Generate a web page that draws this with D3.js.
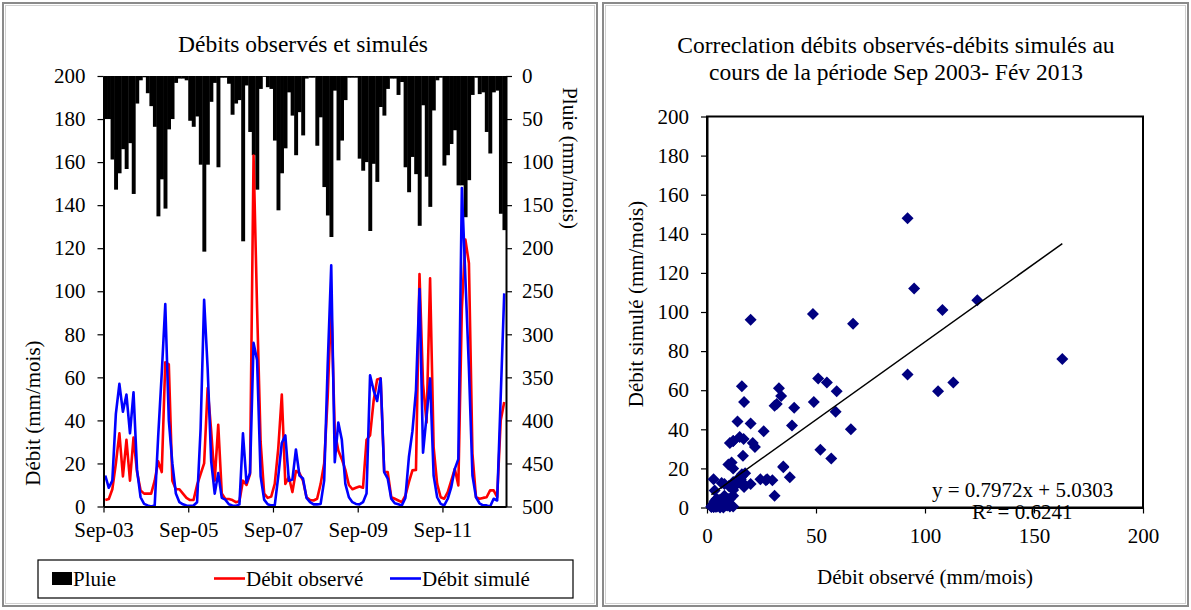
<!DOCTYPE html>
<html><head><meta charset="utf-8">
<script src="https://cdn.jsdelivr.net/npm/d3@7/dist/d3.min.js"></script>
<style>
html,body{margin:0;padding:0;background:#fff;}
text{font-family:"Liberation Serif","Times New Roman",serif;fill:#000;}
</style></head>
<body>
<svg id="c" width="1191" height="610"></svg>
<script>
// ---- DATA (monthly, Sep 2003 -> Feb 2013) ----
const months = d3.range(114); // month index from Sep-03
const xTickIdx = [0, 24, 48, 72, 96];
const xTickLabels = ["Sep-03", "Sep-05", "Sep-07", "Sep-09", "Sep-11"];
const pluie = [50,50,97,132,113,85,108,78,137,32,5,1.5,20,35,59,163,120,154,62,50,
  8,3,3,5,52,59,47,103,204,103,30,8,106,2,2,9,45,32,28,192,
  11,65,92,132,15,1,13,15,75,156,113,84,19,46,92,42,69,3,2,2,
  81,48,129,162,187,17,98,75,28,2,2,2,96,110,100,180,102,123,36,46,
  15,3,3,22,7,106,135,94,114,174,34,117,152,40,5,2,104,92,79,63,
  127,127,164,121,22,2,21,19,65,90,19,17,160,179];
const debitObs = [3,3.5,8,20,34,14,31,12,32,16,7.5,6,6,6,12,21,16,67,66,12,
  8,8,6,4,3,3,10,15,20,55,35,12,38,6,3.5,3.5,3,2,2.5,12,
  10,15,163,92,30,6,4,4.6,10.5,27,52,10.5,13.7,6.7,16.5,15.5,12,4.3,3,2.8,
  3.6,10.5,20,51,95,35,26,22,17,10,8,8.7,9.3,8.7,31,33,49,59,59.5,16,
  16,4.3,3.6,2.8,2,5,11.3,16.8,17,108,57,39,106,27.6,10.5,4.3,3.6,6.7,12,17.5,
  9.8,92,124,113,24.5,4.3,3.6,4,4.3,7.5,7.5,4.3,40,48.6];
const debitSim = [14.4,8.7,12,43,57,44,52,34,53,17,4.3,1.2,0.5,0,0.5,33,62,94,40,20,
  6,2,1,0.5,0.3,0.5,2,36,96,64,21,6,15.5,4,3.2,1,0.5,0.3,1,34,
  11,15.6,76,68,14,3.2,1,0.5,0.5,14,29.5,33,12,12.5,26.5,14.4,13,4,2,1,
  1,1.2,12,66,112,20.6,39,31,10.5,4.3,2,1.2,1,2,6,61,54,49,59.5,16,
  13,3.6,1.5,1,0.5,4,23,35,54,101,25,42,59.5,14.4,4.3,1.2,0.5,3.6,9,17.5,
  22,148,106,64,14.4,4.3,1.5,0.5,0.5,0,3.6,2.8,51,99];
const debitTicks = d3.range(0, 201, 20);
const pluieTicks = d3.range(0, 501, 50);
const scatterXTicks = [0, 50, 100, 150, 200];
const trendSlope = 0.7972, trendIntercept = 5.0303, r2 = 0.6241;

const svg = d3.select("#c");
const FONT = 21;

// panel frames
[[3,3,594,603],[603,3,585,603]].forEach(r=>{
  svg.append("rect").attr("x",r[0]).attr("y",r[1]).attr("width",r[2]).attr("height",r[3])
    .attr("fill","none").attr("stroke","#8a8a8a").attr("stroke-width",2);
  svg.append("rect").attr("x",r[0]+2.5).attr("y",r[1]+2.5).attr("width",r[2]-5).attr("height",r[3]-5)
    .attr("fill","none").attr("stroke","#d0d0d0").attr("stroke-width",1);
});

// ================= LEFT CHART =================
const L = {x0:103.5, x1:506, y0:76, y1:506.5};
const xb = d3.scaleBand().domain(months).range([L.x0, L.x1]).padding(0);
const xl = d3.scaleLinear().domain([0, 114]).range([L.x0, L.x1]);
const yD = d3.scaleLinear().domain([0, 200]).range([L.y1, L.y0]);
const yP = d3.scaleLinear().domain([0, 500]).range([L.y0, L.y1]);

const gL = svg.append("g");
// rain bars
gL.append("g").selectAll("rect").data(months).join("rect")
  .attr("x", i => xb(i)).attr("width", xb.bandwidth()+0.4)
  .attr("y", yP(0)).attr("height", i => yP(pluie[i]) - yP(0))
  .attr("fill", "#000");

const line = arr => d3.line().x(i => xb(i) + xb.bandwidth()/2).y(i => yD(arr[i]))(months);
gL.append("path").attr("d", line(debitObs)).attr("fill","none").attr("stroke","#ff0000").attr("stroke-width",2.6).attr("stroke-linejoin","round");
gL.append("path").attr("d", line(debitSim)).attr("fill","none").attr("stroke","#0000ff").attr("stroke-width",2.6).attr("stroke-linejoin","round");

function styleAxis(g){
  g.attr("font-family",null).attr("font-size",null);
  g.selectAll("path.domain").attr("stroke","#000").attr("stroke-width",2);
  g.selectAll(".tick line").attr("stroke","#000").attr("stroke-width",1.2);
  g.selectAll("text").style("font-family",'"Liberation Serif", serif').style("font-size",FONT+"px").attr("fill","#000");
}
const axL = gL.append("g").attr("transform",`translate(${L.x0},0)`)
  .call(d3.axisLeft(yD).tickValues(debitTicks).tickSize(6).tickPadding(12).tickSizeOuter(0));
styleAxis(axL);
const axR = gL.append("g").attr("transform",`translate(${L.x1},0)`)
  .call(d3.axisRight(yP).tickValues(pluieTicks).tickSize(6).tickPadding(10).tickSizeOuter(0));
styleAxis(axR);
const axB = gL.append("g").attr("transform",`translate(0,${L.y1})`)
  .call(d3.axisBottom(xl).tickValues(xTickIdx).tickFormat((d,k)=>xTickLabels[k]).tickSize(6).tickPadding(10).tickSizeOuter(0));
styleAxis(axB);

gL.append("text").attr("x",303).attr("y",52).attr("text-anchor","middle").style("font-size","23.5px").text("Débits observés et simulés");
gL.append("text").attr("transform","translate(40,413) rotate(-90)").attr("text-anchor","middle").style("font-size",FONT+"px").text("Débit (mm/mois)");
gL.append("text").attr("transform","translate(563,158) rotate(90)").attr("text-anchor","middle").style("font-size",FONT+"px").text("Pluie (mm/mois)");

// legend
const lg = gL.append("g");
lg.append("rect").attr("x",38).attr("y",560).attr("width",535).attr("height",38).attr("fill","#fff").attr("stroke","#000").attr("stroke-width",1.2);
lg.append("rect").attr("x",52).attr("y",572).attr("width",20).attr("height",13).attr("fill","#000");
lg.append("text").attr("x",73).attr("y",586).style("font-size",FONT+"px").text("Pluie");
lg.append("line").attr("x1",214).attr("x2",245).attr("y1",578.5).attr("y2",578.5).attr("stroke","#ff0000").attr("stroke-width",2.6);
lg.append("text").attr("x",246).attr("y",586).style("font-size",FONT+"px").text("Débit observé");
lg.append("line").attr("x1",390).attr("x2",421).attr("y1",578.5).attr("y2",578.5).attr("stroke","#0000ff").attr("stroke-width",2.6);
lg.append("text").attr("x",422).attr("y",586).style("font-size",FONT+"px").text("Débit simulé");

// ================= RIGHT CHART =================
const R = {x0:707, x1:1143, y0:116.5, y1:507.5};
const sx = d3.scaleLinear().domain([0,200]).range([R.x0, R.x1]);
const sy = d3.scaleLinear().domain([0,200]).range([R.y1, R.y0]);
const gR = svg.append("g");

gR.append("text").attr("x",896).attr("y",53).attr("text-anchor","middle").style("font-size","23.5px").text("Correclation débits observés-débits simulés au");
gR.append("text").attr("x",896).attr("y",80).attr("text-anchor","middle").style("font-size","23.5px").text("cours de la période Sep 2003- Fév 2013");

const axSY = gR.append("g").attr("transform",`translate(${R.x0},0)`)
  .call(d3.axisLeft(sy).tickValues(debitTicks).tickSize(6).tickPadding(12).tickSizeOuter(0));
styleAxis(axSY);
const axSX = gR.append("g").attr("transform",`translate(0,${R.y1})`)
  .call(d3.axisBottom(sx).tickValues(scatterXTicks).tickSize(6).tickPadding(15).tickSizeOuter(0));
styleAxis(axSX);
gR.append("rect").attr("x",R.x0).attr("y",R.y0).attr("width",R.x1-R.x0).attr("height",R.y1-R.y0)
  .attr("fill","none").attr("stroke","#000").attr("stroke-width",2);

const diamond = d3.symbol().type(d3.symbolSquare).size(72)();
gR.append("g").selectAll("path").data(months).join("path")
  .attr("d", diamond)
  .attr("transform", i => `translate(${sx(debitObs[i])},${sy(debitSim[i])}) rotate(45)`)
  .attr("fill","#000080");

const xMin = d3.min(debitObs), xMax = d3.max(debitObs);
gR.append("line").attr("x1",sx(xMin)).attr("y1",sy(trendSlope*xMin+trendIntercept))
  .attr("x2",sx(xMax)).attr("y2",sy(trendSlope*xMax+trendIntercept))
  .attr("stroke","#000").attr("stroke-width",1.5);

gR.append("text").attr("x",932).attr("y",497).style("font-size",FONT+"px").text(`y = ${trendSlope}x + ${trendIntercept}`);
gR.append("text").attr("x",972).attr("y",519).style("font-size",FONT+"px").text(`R² = ${r2}`);

gR.append("text").attr("x",925).attr("y",584).attr("text-anchor","middle").style("font-size",FONT+"px").text("Débit observé (mm/mois)");
gR.append("text").attr("transform","translate(643,304) rotate(-90)").attr("text-anchor","middle").style("font-size",FONT+"px").text("Débit simulé (mm/mois)");
</script>
</body></html>
